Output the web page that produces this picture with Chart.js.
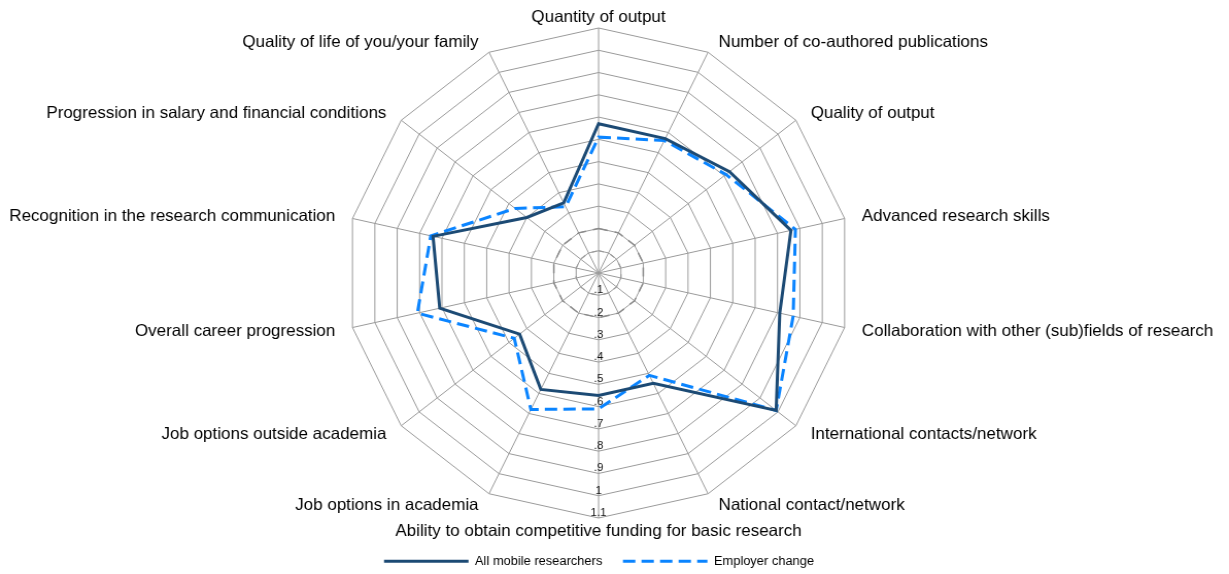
<!DOCTYPE html>
<html>
<head>
<meta charset="utf-8">
<script src="https://cdn.jsdelivr.net/npm/chart.js@4/dist/chart.umd.min.js"></script>
<style>
    html, body { margin: 0; padding: 0; background: #fff; overflow: hidden; }
    #wrap {
        position: absolute; left: 0; top: 0;
        width: 1193px; height: 574px;
        transform: scaleX(1.0302);
        transform-origin: 0 0;
    }
</style>
</head>
<body>
<div id="wrap"><canvas id="radar"></canvas></div>
<script>
const categories = [
    'Quantity of output',
    'Number of co-authored publications',
    'Quality of output',
    'Advanced research skills',
    'Collaboration with other (sub)fields of research',
    'International contacts/network',
    'National contact/network',
    'Ability to obtain competitive funding for basic research',
    'Job options in academia',
    'Job options outside academia',
    'Overall career progression',
    'Recognition in the research communication',
    'Progression in salary and financial conditions',
    'Quality of life of you/your family',
];
const allMobile = [0.67, 0.67, 0.73, 0.86, 0.81, 0.99, 0.55, 0.55, 0.58, 0.44, 0.71, 0.74, 0.40, 0.35];
const employerChange = [0.61, 0.66, 0.71, 0.88, 0.87, 0.99, 0.51, 0.61, 0.68, 0.47, 0.81, 0.75, 0.465, 0.33];
// grey dashed reference rings in the middle
const ringOuter = [0.2, 0.2, 0.2, 0.2, 0.2, 0.2, 0.2, 0.2, 0.2, 0.2, 0.2, 0.2, 0.2, 0.2];
const ringInner = [0.1, 0.1, 0.1, 0.1, 0.1, 0.1, 0.1, 0.1, 0.1, 0.1, 0.1, 0.1, 0.1, 0.1];
const tickValues = [0.1, 0.2, 0.3, 0.4, 0.5, 0.6, 0.7, 0.8, 0.9, 1.0, 1.1];
const tickLabels = ['.1', '.2', '.3', '.4', '.5', '.6', '.7', '.8', '.9', '1', '1.1'];

const FONT = '"Liberation Sans", Arial, sans-serif';

// Excel style labels: category names round the outside, tick values along the bottom spoke
const excelLabels = {
    id: 'excelLabels',
    afterDraw(chart) {
        const scale = chart.scales.r;
        const ctx = chart.ctx;
        ctx.save();
        ctx.fillStyle = '#000';
        ctx.font = '16.5px ' + FONT;
        ctx.textBaseline = 'middle';
        categories.forEach((label, i) => {
            const pos = scale.getPointPosition(i, scale.drawingArea + 12);
            const s = Math.sin(scale.getIndexAngle(i));
            let x = pos.x;
            if (Math.abs(s) < 0.01) {
                ctx.textAlign = 'center';
            } else if (s > 0) {
                ctx.textAlign = 'left';
                x += 5;
            } else {
                ctx.textAlign = 'right';
                x -= 5;
            }
            ctx.fillText(label, x, pos.y + 1);
        });
        ctx.font = '11px ' + FONT;
        ctx.fillStyle = '#111';
        ctx.textAlign = 'center';
        ctx.textBaseline = 'alphabetic';
        tickValues.forEach((v, i) => {
            const d = scale.getDistanceFromCenterForValue(v);
            ctx.fillText(tickLabels[i], scale.xCenter, scale.yCenter + d - 2);
        });
        ctx.restore();
    }
};

const ctx = document.getElementById('radar').getContext('2d');
new Chart(ctx, {
    type: 'radar',
    data: {
        labels: categories,
        datasets: [
            {
                label: 'All mobile researchers',
                data: allMobile,
                borderColor: '#1C4A74',
                backgroundColor: '#1C4A74',
                borderWidth: 3,
                fill: false,
                pointRadius: 0,
                pointStyle: 'line',
            },
            {
                label: 'Employer change',
                data: employerChange,
                borderColor: '#0A84FF',
                backgroundColor: '#0A84FF',
                borderWidth: 3,
                borderDash: [12, 6],
                fill: false,
                pointRadius: 0,
                pointStyle: 'line',
            },
            {
                label: 'ring .2',
                data: ringOuter,
                borderColor: '#8a8a8a',
                borderWidth: 1.5,
                borderDash: [9, 7],
                fill: false,
                pointRadius: 0,
            },
            {
                label: 'ring .1',
                data: ringInner,
                borderColor: '#999',
                borderWidth: 1.2,
                borderDash: [5, 7],
                fill: false,
                pointRadius: 0,
            },
        ],
    },
    options: {
        animation: false,
        responsive: true,
        maintainAspectRatio: false,
        layout: {
            padding: { left: 336.5, right: 366.5, top: 11.5, bottom: -3.5 },
        },
        elements: {
            line: { tension: 0, borderJoinStyle: 'miter' },
        },
        plugins: {
            legend: {
                position: 'bottom',
                labels: {
                    usePointStyle: true,
                    pointStyleWidth: 82,
                    padding: 20,
                    color: '#000',
                    font: { family: FONT, size: 12.5 },
                    generateLabels: (chart) => Chart.defaults.plugins.legend.labels.generateLabels(chart)
                        .filter(item => item.datasetIndex < 2)
                        .map(item => {
                            const ds = chart.data.datasets[item.datasetIndex];
                            item.lineDash = ds.borderDash || [];
                            item.strokeStyle = ds.borderColor;
                            item.lineWidth = ds.borderWidth;
                            return item;
                        }),
                },
            },
            tooltip: { enabled: false },
        },
        scales: {
            r: {
                min: 0,
                max: 1.1,
                ticks: { display: false, stepSize: 0.1 },
                pointLabels: { display: false },
                grid: { color: '#9a9a9a', lineWidth: 1 },
                angleLines: { color: '#9a9a9a', lineWidth: 1 },
            },
        },
    },
    plugins: [excelLabels],
});
</script>
</body>
</html>
